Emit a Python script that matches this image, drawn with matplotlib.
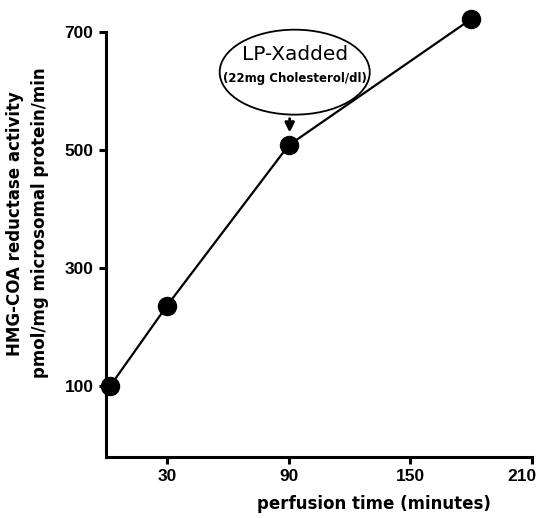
import matplotlib.pyplot as plt
from matplotlib.patches import Ellipse
from matplotlib.transforms import ScaledTranslation

time_min = [2, 30, 90, 180]
activity = [100, 236, 508, 722]
x_ticks = [30, 90, 150, 210]
y_ticks = [100, 300, 500, 700]

fig = plt.figure(figsize=(5.44, 5.18), dpi=100)
ax = fig.add_axes([0.195, 0.118, 0.783, 0.868])

ax.plot(time_min, activity, color='black', lw=1.6, marker='o', ms=13,
        mfc='black', mec='black', clip_on=False, zorder=3)

ax.set_xlim(0, 210)
ax.set_ylim(-20, 742)
ax.spines['top'].set_visible(False)
ax.spines['right'].set_visible(False)
ax.spines['left'].set_bounds(-20, 700)
ax.spines['bottom'].set_bounds(0, 210)
for s in ['left', 'bottom']:
    ax.spines[s].set_linewidth(2.2)
ax.set_xticks(x_ticks)
ax.set_yticks(y_ticks)
ax.tick_params(width=2.2, length=5, labelsize=12.5, pad=4)
for lab in ax.get_xticklabels() + ax.get_yticklabels():
    lab.set_fontweight('bold')
    lab.set_family('Liberation Sans')
# last x label sits a bit left of its tick, like in the original
last = ax.get_xticklabels()[-1]
last.set_transform(last.get_transform() + ScaledTranslation(-10 / 100, 0, fig.dpi_scale_trans))

ax.set_xlabel('perfusion time (minutes)', fontsize=12, fontweight='bold')
ax.xaxis.set_label_coords(0.63, -0.085)
ax.set_ylabel('HMG-COA reductase activity\npmol/mg microsomal protein/min',
              fontsize=12, fontweight='bold', linespacing=1.5)
ax.yaxis.set_label_coords(-0.135, 0.52)

# annotation bubble
ax.add_patch(Ellipse((93, 632), 74, 144, fill=False, lw=1.3, ec='black', zorder=4))
ax.text(93, 662, 'LP-Xadded', ha='center', va='center', fontsize=14.5)
ax.text(93, 622, '(22mg Cholesterol/dl)', ha='center', va='center',
        fontsize=8.5, fontweight='bold')
ax.annotate('', xy=(90.5, 525), xytext=(90.5, 558),
            arrowprops=dict(arrowstyle='-|>', color='black', lw=2,
                            mutation_scale=14))

fig.savefig('out.png', dpi=100)
